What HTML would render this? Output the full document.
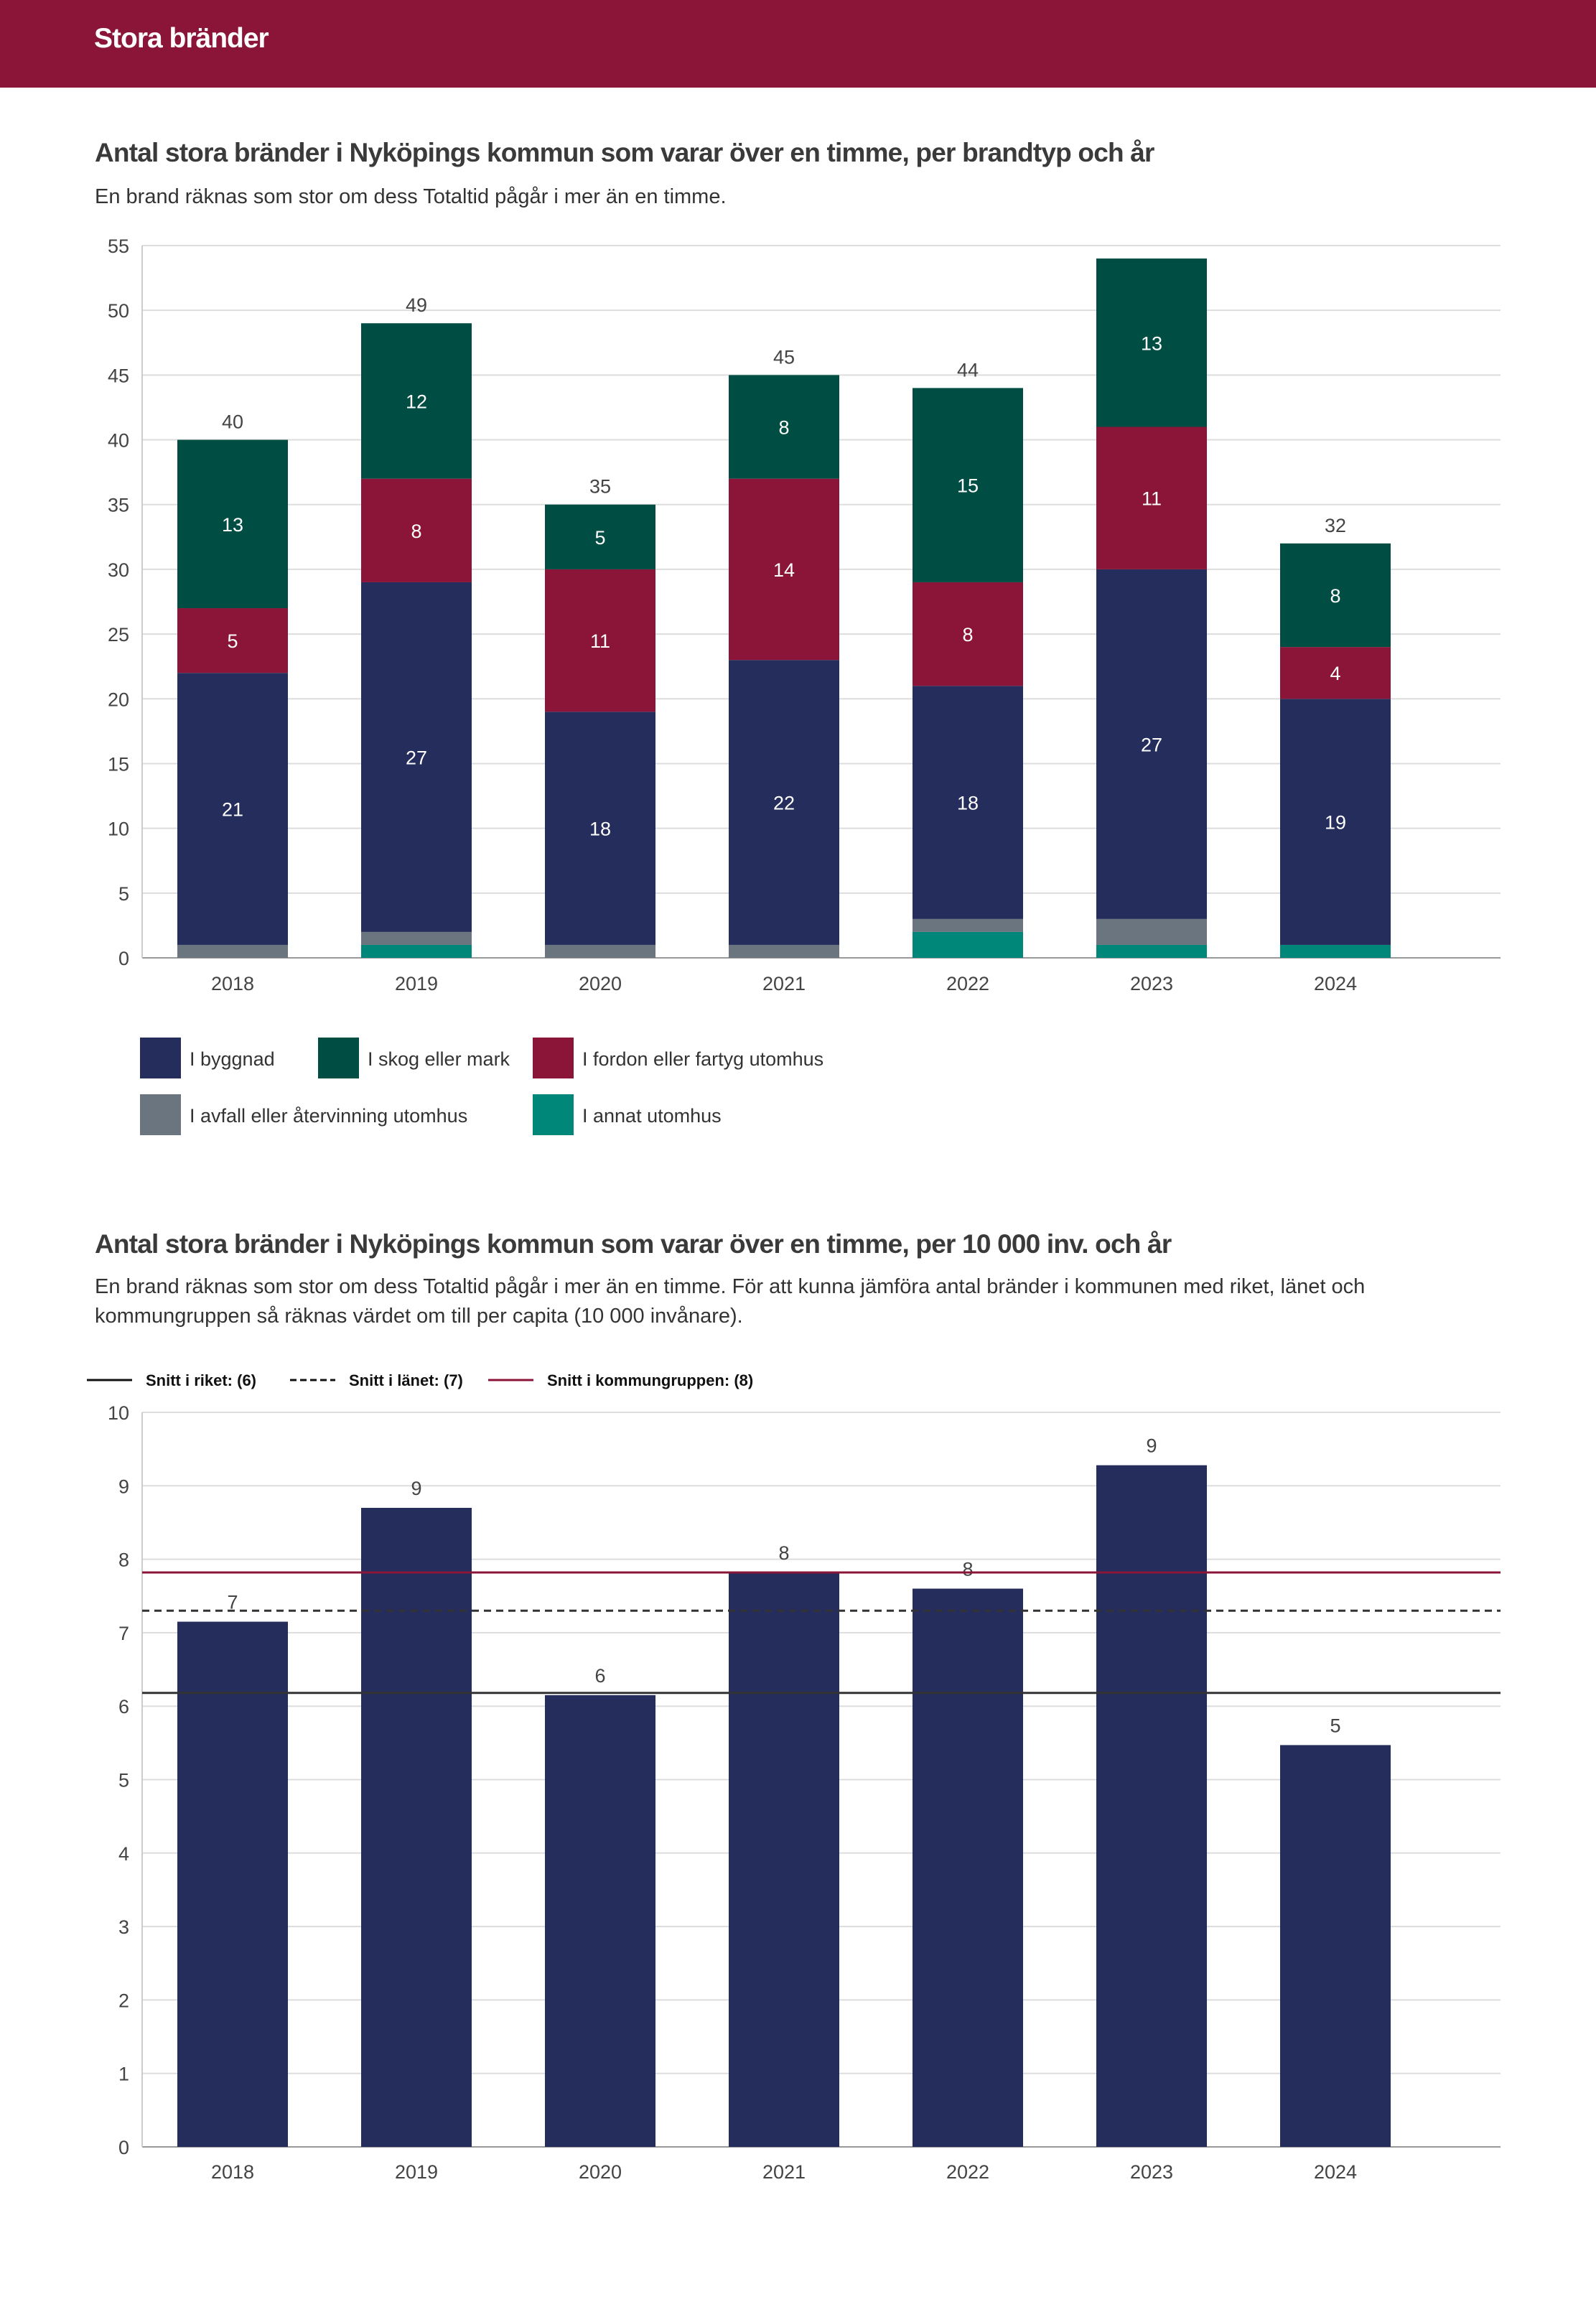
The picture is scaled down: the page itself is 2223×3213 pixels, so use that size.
<!DOCTYPE html>
<html><head><meta charset="utf-8">
<style>
html,body{margin:0;padding:0;background:#fff;}
body{width:2223px;height:3213px;position:relative;overflow:hidden;font-family:"Liberation Sans",sans-serif;color:#333;}
.hdr{position:absolute;left:0;top:0;width:2223px;height:122px;background:#8b1538;}
.hdr span{position:absolute;left:131px;top:32px;font-size:39px;color:#fff;font-weight:bold;letter-spacing:-1px;}
.t{position:absolute;left:132px;font-size:37px;font-weight:bold;color:#3a3a3a;letter-spacing:-0.8px;white-space:nowrap;}
.s{position:absolute;left:132px;font-size:29px;color:#333;line-height:41px;white-space:nowrap;}
svg{position:absolute;left:0;}
</style></head><body>
<div class="hdr"><span>Stora bränder</span></div>
<div class="t" style="top:192px">Antal stora bränder i Nyköpings kommun som varar över en timme, per brandtyp och år</div>
<div class="s" style="top:254px">En brand räknas som stor om dess Totaltid pågår i mer än en timme.</div>
<svg id="c1" width="2223" height="1650" style="top:0"></svg>

<div class="t" style="top:1712px">Antal stora bränder i Nyköpings kommun som varar över en timme, per 10 000 inv. och år</div>
<div class="s" style="top:1772px">En brand räknas som stor om dess Totaltid pågår i mer än en timme. För att kunna jämföra antal bränder i kommunen med riket, länet och<br>kommungruppen så räknas värdet om till per capita (10 000 invånare).</div>
<svg id="c2" width="2223" height="1300" style="top:1880px"></svg>

<script>
const years=["2018","2019","2020","2021","2022","2023","2024"];
const annat=[0,1,0,0,2,1,1];
const avfall=[1,1,1,1,1,2,0];
const byggnad=[21,27,18,22,18,27,19];
const fordon=[5,8,11,14,8,11,4];
const skog=[13,12,5,8,15,13,8];
const totalLabels=["40","49","35","45","44","","32"];
const yTicks1=[0,5,10,15,20,25,30,35,40,45,50,55];

const perCapita=[7.15,8.7,6.15,7.82,7.6,9.28,5.47];
const perCapitaLabels=["7","9","6","8","8","9","5"];
const yTicks2=[0,1,2,3,4,5,6,7,8,9,10];
const snittRiket=6.18;
const snittLanet=7.3;
const snittKommungrupp=7.82;

const NS="http://www.w3.org/2000/svg";
function mk(p,tag,attrs,txt){const e=document.createElementNS(NS,tag);for(const k in attrs)e.setAttribute(k,attrs[k]);if(txt!==undefined)e.textContent=txt;p.appendChild(e);return e;}
const L=198,R=2090,BW=154;
function xc(i){return 324+i*256;}

// Chart 1
const c1=document.getElementById('c1');
const y1=v=>1334-(1334-342)*v/55;
yTicks1.forEach(v=>{
  const g=mk(c1,'line',{x1:L,x2:R,y1:y1(v),y2:y1(v),stroke:v===0?'#999':'#ddd','stroke-width':2});
  
  const t=mk(c1,'text',{x:180,y:y1(v)+10,'text-anchor':'end','font-size':27,fill:'#444'},String(v));
  
});
const ax=mk(c1,'line',{x1:L,x2:L,y1:342,y2:1334,stroke:'#ccc','stroke-width':2});

const series=[[annat,'#00877a','annat',false],[avfall,'#6b7580','avfall',false],[byggnad,'#252d5c','byggnad',true],[fordon,'#8b1538','fordon',true],[skog,'#004d43','skog',true]];
years.forEach((yr,i)=>{
  let acc=0;
  series.forEach(([arr,col,nm,lab])=>{
    const v=arr[i];if(!v)return;
    const top=y1(acc+v),bot=y1(acc);
    const r=mk(c1,'rect',{x:xc(i)-BW/2,y:top,width:BW,height:bot-top,fill:col});
    
    if(lab){const t=mk(c1,'text',{x:xc(i),y:(top+bot)/2+10,'text-anchor':'middle','font-size':27,fill:'#fff'},String(v));
      }
    acc+=v;
  });
  if(totalLabels[i]){const t=mk(c1,'text',{x:xc(i),y:y1(acc)-16,'text-anchor':'middle','font-size':27,fill:'#444'},totalLabels[i]);
    }
  const xl=mk(c1,'text',{x:xc(i),y:1379,'text-anchor':'middle','font-size':27,fill:'#444'},yr);
  
});
const leg=[[195,1445,'#252d5c','I byggnad'],[443,1445,'#004d43','I skog eller mark'],[742,1445,'#8b1538','I fordon eller fartyg utomhus'],[195,1524,'#6b7580','I avfall eller återvinning utomhus'],[742,1524,'#00877a','I annat utomhus']];
leg.forEach(([x,y,c,txt])=>{
  const r=mk(c1,'rect',{x:x,y:y,width:57,height:57,fill:c});
  
  const t=mk(c1,'text',{x:x+69,y:y+39,'font-size':27,fill:'#333'},txt);
  
});

// Chart 2 (offset top 1880)
const c2=document.getElementById('c2');
const O=1880;
const y2=v=>(2990-O)-((2990-1967)*v/10);
yTicks2.forEach(v=>{
  const g=mk(c2,'line',{x1:L,x2:R,y1:y2(v),y2:y2(v),stroke:v===0?'#999':'#ddd','stroke-width':2});
  
  const t=mk(c2,'text',{x:180,y:y2(v)+10,'text-anchor':'end','font-size':27,fill:'#444'},String(v));
  
});
const ax2=mk(c2,'line',{x1:L,x2:L,y1:y2(10),y2:y2(0),stroke:'#ccc','stroke-width':2});

years.forEach((yr,i)=>{
  const top=y2(perCapita[i]);
  const r=mk(c2,'rect',{x:xc(i)-BW/2,y:top,width:BW,height:y2(0)-top,fill:'#252d5c'});
  
  const t=mk(c2,'text',{x:xc(i),y:top-18,'text-anchor':'middle','font-size':27,fill:'#444'},perCapitaLabels[i]);
  
  const xl=mk(c2,'text',{x:xc(i),y:3034-O,'text-anchor':'middle','font-size':27,fill:'#444'},yr);
  
});
const ref=[[snittRiket,'#333',null,'riket'],[snittLanet,'#333','10,7','lanet'],[snittKommungrupp,'#8b1538',null,'kommungrupp']];
ref.forEach(([v,c,d,nm])=>{
  const a={x1:L,x2:R,y1:y2(v),y2:y2(v),stroke:c,'stroke-width':3};if(d)a['stroke-dasharray']=d;
  const l=mk(c2,'line',a);
  
});
const leg2=[[121,'#111',null,'Snitt i riket: (6)'],[404,'#111','9,5','Snitt i länet: (7)'],[680,'#8b1538',null,'Snitt i kommungruppen: (8)']];
leg2.forEach(([x,c,d,txt])=>{
  const a={x1:x,x2:x+63,y1:42,y2:42,stroke:c,'stroke-width':3};if(d)a['stroke-dasharray']=d;
  const l=mk(c2,'line',a);
  
  const t=mk(c2,'text',{x:x+82,y:50,'font-size':22,'font-weight':'bold',fill:'#111'},txt);
  
});
</script>
</body></html>
